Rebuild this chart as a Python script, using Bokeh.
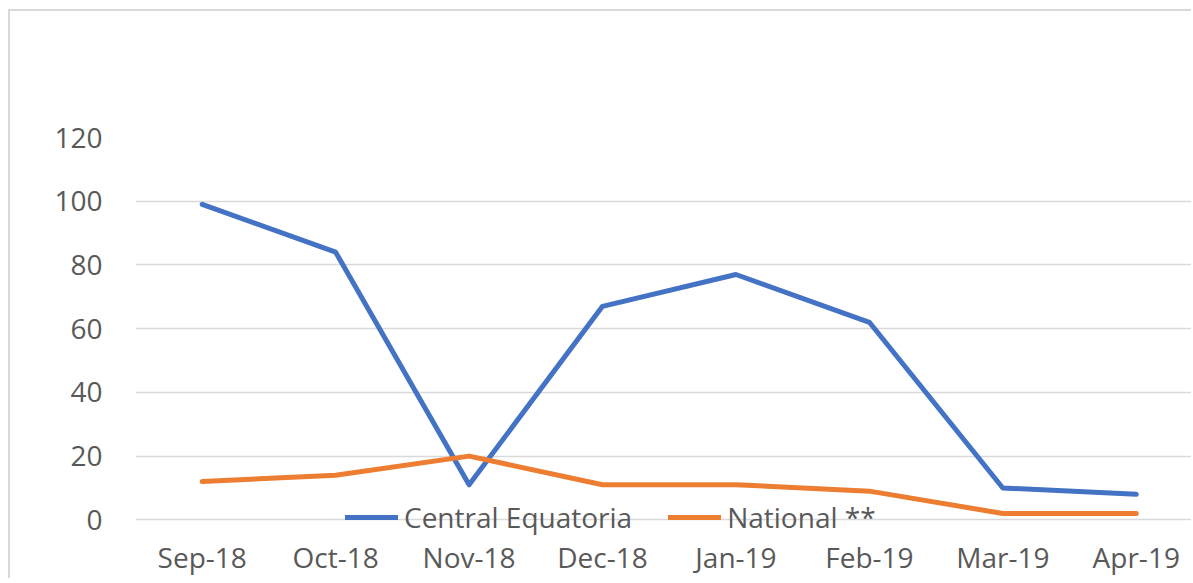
from bokeh.plotting import figure
from bokeh.models import ColumnDataSource, FixedTicker, Range1d, Legend, LegendItem
from bokeh.embed import file_html
from bokeh.resources import INLINE

months = ["Sep-18", "Oct-18", "Nov-18", "Dec-18", "Jan-19", "Feb-19", "Mar-19", "Apr-19"]
central_equatoria = [99, 84, 11, 67, 77, 62, 10, 8]
national = [12, 14, 20, 11, 11, 9, 2, 2]
y_ticks = [0, 20, 40, 60, 80, 100, 120]

xs = list(range(len(months)))
src = ColumnDataSource(dict(x=xs, ce=central_equatoria, nat=national))

FONT = "Open Sans"
GREY = "#595959"

p = figure(width=1181, height=570, output_backend="svg", toolbar_location=None,
           x_range=Range1d(-0.5, 7.414), y_range=Range1d(-9, 120),
           min_border_left=125, min_border_top=126, min_border_right=0, min_border_bottom=20)
p.frame_width = 1056
p.frame_height = 411
p.styles = {"border-left": "2px solid #d9d9d9", "border-top": "2px solid #d9d9d9",
            "margin-left": "8px", "margin-top": "9px"}
p.outline_line_color = None
p.background_fill_color = "white"
p.border_fill_color = "white"

r1 = p.line("x", "ce", source=src, line_color="#4472C4", line_width=5, line_cap="round", line_join="round")
r2 = p.line("x", "nat", source=src, line_color="#ED7D31", line_width=5, line_cap="round", line_join="round")

p.xaxis.ticker = FixedTicker(ticks=xs)
p.xaxis.major_label_overrides = {i: m for i, m in enumerate(months)}
p.yaxis.ticker = FixedTicker(ticks=y_ticks)
for ax in (p.xaxis, p.yaxis):
    ax.axis_line_color = None
    ax.major_tick_line_color = None
    ax.minor_tick_line_color = None
    ax.major_label_text_font = FONT
    ax.major_label_text_font_size = "28px"
    ax.major_label_text_color = GREY
p.xaxis.major_label_standoff = -17
p.yaxis.major_label_standoff = 27

p.xgrid.grid_line_color = None
p.ygrid.grid_line_color = "#d9d9d9"
p.ygrid.grid_line_width = 1.5

legend = Legend(items=[LegendItem(label="Central Equatoria", renderers=[r1]),
                       LegendItem(label="National **", renderers=[r2])],
                orientation="horizontal", location=(210, 12),
                label_text_font=FONT, label_text_font_size="28px", label_text_color=GREY,
                glyph_width=53, glyph_height=30, label_height=30, label_standoff=6,
                spacing=36, padding=0, margin=0,
                border_line_color=None, background_fill_alpha=0)
p.add_layout(legend, "center")

open("out.html", "w").write(file_html(p, INLINE))
